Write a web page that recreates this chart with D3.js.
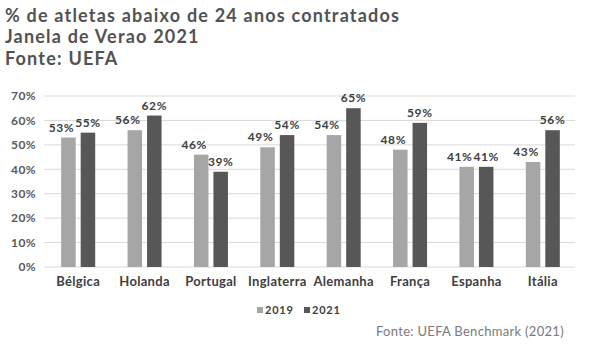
<!DOCTYPE html>
<html><head><meta charset="utf-8">
<script src="https://cdn.jsdelivr.net/npm/d3@7"></script>
<style>body{margin:0;background:#fff;}svg{display:block;font-family:Lato,"Open Sans",sans-serif;}</style>
</head><body>
<svg id="c" width="591" height="349"></svg>
<script>
const categories = ["Bélgica","Holanda","Portugal","Inglaterra","Alemanha","França","Espanha","Itália"];
const values2019 = [53,56,46,49,54,48,41,43];
const values2021 = [55,62,39,54,65,59,41,56];
const seriesNames = ["2019","2021"];
const yTicks = [0,10,20,30,40,50,60,70];
const titleLines = ["% de atletas abaixo de 24 anos contratados","Janela de Verao 2021","Fonte: UEFA"];
const sourceText = "Fonte: UEFA Benchmark (2021)";

(function(){
const colors = ["#a6a6a6","#575757"];
const svg = d3.select("#c");
const mLeft = 45, mRight = 576, mTop = 96, mBottom = 267;

svg.selectAll("text.title").data(titleLines).join("text").attr("class","title")
  .attr("x",5).attr("y",(d,i)=>22+i*21.3)
  .attr("font-size",18).attr("font-weight",700).attr("letter-spacing",1.2)
  .attr("fill","#525252").text(d=>d);

const x = d3.scaleBand().domain(categories).range([mLeft,mRight]).paddingInner(0).paddingOuter(0);
const y = d3.scaleLinear().domain([0,70]).range([mBottom,mTop]);
const x1 = d3.scaleBand().domain(seriesNames).range([0,x.bandwidth()]).paddingInner(0.256).paddingOuter(0.83);

svg.append("g").selectAll("line").data(yTicks).join("line")
  .attr("x1",mLeft-1).attr("x2",mRight-1).attr("y1",d=>y(d)).attr("y2",d=>y(d))
  .attr("stroke","#d9d9d9").attr("stroke-width",1);

const yAxis = svg.append("g").attr("transform",`translate(${mLeft},0)`)
  .call(d3.axisLeft(y).tickValues(yTicks).tickFormat(d=>d+"%").tickSize(0).tickPadding(9));
yAxis.select(".domain").remove();
yAxis.selectAll("text").attr("font-size",12).attr("font-weight",700).attr("letter-spacing",0.4)
  .attr("fill","#595959").attr("font-family","Lato,sans-serif");

const xAxis = svg.append("g").attr("transform",`translate(0,${mBottom})`)
  .call(d3.axisBottom(x).tickSize(0).tickPadding(10));
xAxis.select(".domain").remove();
xAxis.selectAll("text").attr("font-size",13).attr("font-weight",700).attr("letter-spacing",0.3)
  .attr("fill","#404040").attr("font-family","Lato,sans-serif");

const data = categories.map((c,i)=>({c, vals:[values2019[i],values2021[i]]}));
const groups = svg.append("g").selectAll("g").data(data).join("g")
  .attr("transform",d=>`translate(${x(d.c)},0)`);
groups.selectAll("rect").data(d=>d.vals.map((v,j)=>({v,s:seriesNames[j],j}))).join("rect")
  .attr("x",d=>x1(d.s)).attr("width",x1.bandwidth())
  .attr("y",d=>y(d.v)).attr("height",d=>y(0)-y(d.v)).attr("fill",d=>colors[d.j]);
groups.selectAll("text").data(d=>d.vals.map((v,j)=>({v,s:seriesNames[j],j}))).join("text")
  .attr("x",d=>x1(d.s)+x1.bandwidth()/2 + (d.j===0 ? -7 : 0)).attr("y",d=>y(d.v)-6)
  .attr("text-anchor","middle").attr("font-size",12).attr("font-weight",700).attr("letter-spacing",0.6)
  .attr("fill","#404040").text(d=>d.v+"%");

const leg = svg.append("g").attr("transform","translate(257,310)");
seriesNames.forEach((s,i)=>{
  const g = leg.append("g").attr("transform",`translate(${i*47},0)`);
  g.append("rect").attr("x",0).attr("y",-3).attr("width",6).attr("height",6).attr("fill",colors[i]);
  g.append("text").attr("x",8).attr("y",4).attr("font-size",11).attr("font-weight",700).attr("letter-spacing",0.8)
    .attr("fill","#404040").text(s);
});

svg.append("text").attr("x",376).attr("y",336).attr("font-size",13).attr("letter-spacing",0.3).attr("fill","#7a7a7a")
  .attr("font-family","Lato,sans-serif").text(sourceText);
})();
</script>
</body></html>
